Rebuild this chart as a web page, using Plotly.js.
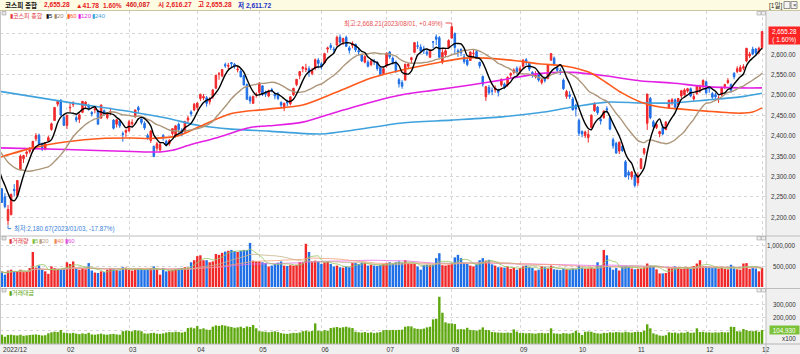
<!DOCTYPE html>
<html><head><meta charset="utf-8">
<script src="https://cdn.plot.ly/plotly-3.0.1.min.js"></script>
<style>html,body{margin:0;padding:0;background:#fff;overflow:hidden}#chart{width:800px;height:354px}</style>
</head><body><div id="chart"></div>
<script>
// ---------------- DATA ----------------
const dates = [
'2022-12-28','2022-12-29',
'2023-01-02','2023-01-03','2023-01-04','2023-01-05','2023-01-06','2023-01-09','2023-01-10','2023-01-11','2023-01-12','2023-01-13','2023-01-16','2023-01-17','2023-01-18','2023-01-19','2023-01-20','2023-01-25','2023-01-26','2023-01-27','2023-01-30','2023-01-31',
'2023-02-01','2023-02-02','2023-02-03','2023-02-06','2023-02-07','2023-02-08','2023-02-09','2023-02-10','2023-02-13','2023-02-14','2023-02-15','2023-02-16','2023-02-17','2023-02-20','2023-02-21','2023-02-22','2023-02-23','2023-02-24','2023-02-27','2023-02-28',
'2023-03-02','2023-03-03','2023-03-06','2023-03-07','2023-03-08','2023-03-09','2023-03-10','2023-03-13','2023-03-14','2023-03-15','2023-03-16','2023-03-17','2023-03-20','2023-03-21','2023-03-22','2023-03-23','2023-03-24','2023-03-27','2023-03-28','2023-03-29','2023-03-30','2023-03-31',
'2023-04-03','2023-04-04','2023-04-05','2023-04-06','2023-04-07','2023-04-10','2023-04-11','2023-04-12','2023-04-13','2023-04-14','2023-04-17','2023-04-18','2023-04-19','2023-04-20','2023-04-21','2023-04-24','2023-04-25','2023-04-26','2023-04-27','2023-04-28',
'2023-05-02','2023-05-03','2023-05-04','2023-05-08','2023-05-09','2023-05-10','2023-05-11','2023-05-12','2023-05-15','2023-05-16','2023-05-17','2023-05-18','2023-05-19','2023-05-22','2023-05-23','2023-05-24','2023-05-25','2023-05-26','2023-05-30','2023-05-31',
'2023-06-01','2023-06-02','2023-06-05','2023-06-07','2023-06-08','2023-06-09','2023-06-12','2023-06-13','2023-06-14','2023-06-15','2023-06-16','2023-06-19','2023-06-20','2023-06-21','2023-06-22','2023-06-23','2023-06-26','2023-06-27','2023-06-28','2023-06-29','2023-06-30',
'2023-07-03','2023-07-04','2023-07-05','2023-07-06','2023-07-07','2023-07-10','2023-07-11','2023-07-12','2023-07-13','2023-07-14','2023-07-17','2023-07-18','2023-07-19','2023-07-20','2023-07-21','2023-07-24','2023-07-25','2023-07-26','2023-07-27','2023-07-28','2023-07-31',
'2023-08-01','2023-08-02','2023-08-03','2023-08-04','2023-08-07','2023-08-08','2023-08-09','2023-08-10','2023-08-11','2023-08-14','2023-08-16','2023-08-17','2023-08-18','2023-08-21','2023-08-22','2023-08-23','2023-08-24','2023-08-25','2023-08-28','2023-08-29','2023-08-30','2023-08-31',
'2023-09-01','2023-09-04','2023-09-05','2023-09-06','2023-09-07','2023-09-08','2023-09-11','2023-09-12','2023-09-13','2023-09-14','2023-09-15','2023-09-18','2023-09-19','2023-09-20','2023-09-21','2023-09-22','2023-09-25','2023-09-26','2023-09-27',
'2023-10-04','2023-10-05','2023-10-06','2023-10-10','2023-10-11','2023-10-12','2023-10-13','2023-10-16','2023-10-17','2023-10-18','2023-10-19','2023-10-20','2023-10-23','2023-10-24','2023-10-25','2023-10-26','2023-10-27','2023-10-30','2023-10-31',
'2023-11-01','2023-11-02','2023-11-03','2023-11-06','2023-11-07','2023-11-08','2023-11-09','2023-11-10','2023-11-13','2023-11-14','2023-11-15','2023-11-16','2023-11-17','2023-11-20','2023-11-21','2023-11-22','2023-11-23','2023-11-24','2023-11-27','2023-11-28','2023-11-29','2023-11-30',
'2023-12-01','2023-12-04','2023-12-05','2023-12-06','2023-12-07','2023-12-08','2023-12-11','2023-12-12','2023-12-13','2023-12-14','2023-12-15','2023-12-18','2023-12-19','2023-12-20','2023-12-21','2023-12-22','2023-12-26','2023-12-27','2023-12-28'
];
const openP = [
2317,2270,
2250,2192,2206,2268,2253,2316,2343,2356,2361,2366,2392,2401,2380,2367,2387,2415,2437,2477,2487,2445,
2425,2468,2476,2444,2440,2457,2474,2473,2457,2463,2462,2443,2461,2444,2456,2438,2428,2436,2405,2408,
2412,2429,2446,2469,2441,2430,2400,2388,2374,2369,2365,2400,2386,2380,2405,2400,2428,2413,2410,2438,2458,2463,
2469,2491,2492,2493,2483,2495,2516,2551,2546,2574,2570,2579,2575,2561,2558,2547,2525,2494,2479,2500,
2506,2522,2505,2497,2513,2502,2500,2481,2468,2483,2478,2500,2525,2547,2564,2562,2564,2552,2565,2585,
2576,2578,2612,2621,2612,2622,2641,2630,2641,2615,2621,2624,2608,2599,2580,2580,2574,2583,2580,2567,2552,
2571,2605,2590,2580,2537,2530,2536,2570,2586,2604,2620,2617,2612,2605,2592,2630,2642,2640,2580,2598,2616,
2639,2650,2608,2611,2593,2585,2584,2601,2606,2580,2545,2495,2518,2510,2512,2511,2524,2526,2524,2548,2555,2565,
2558,2570,2586,2577,2555,2545,2550,2530,2540,2540,2585,2590,2567,2560,2536,2496,2500,2490,2475,
2437,2410,2400,2395,2420,2461,2470,2440,2444,2466,2444,2390,2381,2362,2374,2336,2310,2299,2303,
2284,2319,2357,2430,2491,2434,2420,2404,2420,2415,2468,2480,2488,2475,2497,2500,2509,2515,2490,2503,2510,2522,
2532,2518,2503,2500,2490,2500,2520,2530,2525,2553,2557,2557,2565,2583,2595,2612,2612,2605,2616
];
const highP = [
2318,2270,
2259,2230,2258,2281,2290,2354,2353,2364,2372,2387,2406,2405,2383,2384,2400,2432,2470,2487,2489,2453,
2450,2480,2484,2450,2454,2484,2484,2478,2460,2469,2463,2476,2464,2457,2468,2440,2440,2437,2410,2415,
2438,2440,2463,2473,2441,2435,2405,2413,2375,2385,2385,2404,2390,2392,2418,2425,2432,2418,2435,2448,2462,2480,
2481,2503,2502,2497,2494,2514,2548,2556,2563,2579,2578,2580,2578,2570,2563,2549,2528,2498,2498,2506,
2531,2523,2510,2513,2517,2506,2507,2484,2481,2488,2496,2517,2538,2558,2570,2576,2570,2566,2589,2590,
2580,2603,2618,2627,2618,2645,2648,2640,2645,2620,2631,2625,2615,2600,2597,2585,2588,2588,2582,2568,2567,
2604,2607,2594,2584,2541,2536,2576,2578,2593,2629,2631,2624,2620,2612,2612,2632,2648,2644,2612,2612,2636,
2668,2653,2613,2614,2600,2590,2606,2610,2610,2581,2547,2522,2524,2518,2523,2515,2540,2530,2545,2555,2565,2570,
2570,2587,2590,2578,2558,2558,2556,2540,2545,2575,2602,2594,2574,2566,2540,2512,2509,2495,2478,
2442,2413,2412,2414,2452,2481,2472,2446,2462,2472,2448,2395,2385,2385,2378,2340,2315,2313,2305,
2310,2345,2370,2502,2495,2438,2432,2412,2428,2436,2487,2492,2491,2492,2512,2516,2517,2518,2503,2522,2525,2538,
2535,2520,2507,2505,2498,2520,2527,2541,2528,2555,2570,2573,2575,2615,2605,2618,2615,2618,2655
];
const lowP = [
2280,2236,
2222,2181,2205,2252,2253,2316,2333,2348,2356,2360,2386,2379,2362,2364,2385,2412,2436,2471,2450,2425,
2416,2458,2470,2433,2431,2455,2468,2461,2447,2455,2427,2441,2449,2440,2451,2415,2420,2419,2385,2397,
2409,2424,2443,2455,2427,2414,2390,2382,2347,2362,2360,2388,2373,2375,2400,2395,2407,2398,2405,2432,2447,2460,
2462,2485,2487,2471,2476,2490,2515,2537,2543,2566,2563,2566,2564,2555,2543,2523,2488,2478,2478,2493,
2502,2497,2495,2494,2506,2489,2487,2467,2460,2472,2474,2497,2521,2538,2555,2556,2544,2548,2560,2565,
2562,2576,2603,2610,2601,2619,2623,2622,2617,2601,2614,2605,2597,2580,2577,2567,2570,2573,2559,2549,2550,
2567,2588,2574,2555,2518,2515,2535,2563,2576,2602,2612,2604,2600,2595,2590,2614,2622,2592,2575,2592,2612,
2637,2600,2593,2595,2576,2570,2583,2592,2588,2565,2520,2485,2500,2499,2505,2496,2520,2514,2520,2540,2550,2550,
2550,2565,2573,2558,2542,2540,2532,2525,2530,2538,2583,2571,2553,2549,2512,2490,2490,2462,2447,
2399,2396,2394,2383,2418,2458,2451,2427,2441,2456,2413,2368,2357,2355,2360,2298,2292,2292,2273,
2277,2318,2352,2414,2440,2414,2416,2396,2401,2413,2466,2474,2467,2470,2492,2498,2505,2494,2485,2500,2505,2515,
2500,2505,2490,2490,2480,2497,2514,2526,2505,2538,2553,2556,2560,2580,2590,2597,2595,2600,2612
];
const closeP = [
2280,2236,
2226,2219,2256,2265,2290,2350,2351,2360,2365,2386,2400,2379,2368,2380,2395,2429,2469,2484,2450,2425,
2450,2469,2480,2438,2451,2484,2482,2469,2453,2466,2428,2475,2451,2455,2459,2418,2439,2424,2403,2413,
2434,2432,2463,2463,2432,2419,2395,2411,2349,2380,2378,2396,2378,2388,2417,2424,2415,2404,2435,2443,2453,2477,
2480,2501,2496,2479,2490,2512,2548,2551,2562,2571,2572,2576,2571,2563,2544,2524,2489,2485,2496,2502,
2529,2501,2502,2509,2510,2497,2491,2475,2479,2480,2495,2516,2538,2557,2568,2565,2555,2559,2586,2577,
2569,2601,2615,2616,2610,2641,2629,2638,2619,2609,2626,2610,2605,2583,2594,2570,2582,2581,2564,2550,2564,
2602,2593,2579,2556,2527,2521,2575,2575,2591,2628,2619,2607,2608,2600,2610,2629,2636,2592,2604,2608,2633,
2667,2616,2605,2603,2581,2574,2605,2602,2591,2571,2526,2520,2505,2509,2516,2506,2538,2519,2543,2552,2561,2556,
2564,2585,2582,2563,2548,2548,2536,2537,2535,2573,2601,2575,2560,2559,2515,2508,2496,2463,2465,
2406,2404,2409,2403,2450,2480,2456,2436,2460,2463,2416,2375,2357,2384,2363,2299,2303,2311,2278,
2302,2343,2368,2502,2444,2422,2427,2410,2404,2433,2487,2488,2470,2491,2510,2512,2515,2497,2496,2522,2520,2535,
2505,2515,2494,2495,2492,2518,2525,2535,2511,2544,2564,2567,2569,2614,2600,2600,2603,2614,2655
];
// closes of the 19 sessions before the first bar (only feed the 5/20-day averages)
const prevCloses = [2480,2434,2419,2393,2383,2371,2389,2371,2399,2373,2361,2360,2352,2333,2329,2357,2314,2317,2333];
// volume, thousand shares
const volume = [
380,360,
300,400,420,390,380,420,360,380,460,850,470,520,420,380,320,500,460,440,430,450,
600,560,620,450,420,460,430,580,400,350,340,380,360,420,440,430,410,400,480,470,
420,400,430,450,440,420,430,450,500,440,300,460,380,400,410,440,450,460,480,470,600,650,
750,770,650,650,600,620,800,780,830,860,880,900,870,850,880,900,900,1070,640,620,
620,600,580,500,520,560,590,620,520,510,530,520,540,600,600,1050,850,620,640,620,
560,600,620,560,500,520,480,470,500,480,580,580,560,590,580,520,540,520,510,540,560,
580,600,560,600,620,580,650,580,560,560,500,420,530,540,530,540,700,820,530,520,540,
560,720,780,700,580,560,520,500,550,650,700,640,660,550,520,480,480,470,500,440,470,420,
460,500,520,480,460,400,420,500,480,450,520,430,420,410,440,430,420,450,430,
520,470,440,450,470,440,600,520,900,770,480,420,460,400,500,510,500,450,430,
440,450,480,570,520,500,430,330,330,340,480,470,500,460,440,450,470,440,510,570,650,500,
500,480,460,470,450,460,440,430,540,450,430,420,570,580,440,460,450,380,460
];
// trading value (axis shows x100)
const tradeValue = [
75,70,
55,68,70,66,64,70,62,65,68,70,72,68,64,66,80,88,92,90,105,85,
82,80,84,78,74,80,76,84,72,70,74,78,72,70,74,76,72,70,96,100,
98,95,104,100,96,80,78,82,84,78,76,80,86,90,88,92,90,86,92,120,124,118,
135,112,118,108,106,130,140,136,142,138,132,128,122,125,130,120,132,128,143,118,
96,94,92,88,92,96,90,82,78,76,80,84,82,86,96,100,94,98,155,100,
96,104,100,120,124,128,122,126,130,124,120,92,88,86,90,84,88,82,86,90,104,
106,104,106,104,106,108,130,134,132,118,114,112,116,125,130,185,190,355,235,163,155,
155,150,110,112,110,122,106,104,100,108,125,105,104,90,88,86,85,84,86,84,110,93,
82,84,80,82,80,78,82,84,80,82,118,80,78,76,82,80,78,84,100,
84,68,92,94,92,84,80,78,84,82,88,86,90,88,86,92,88,86,90,
92,90,100,148,118,80,72,64,62,66,88,84,86,80,86,84,92,84,86,118,90,92,
86,88,85,88,86,90,87,88,130,128,96,94,113,104,98,96,100,92,105
];
// long moving averages (session index -> value)
const ma60At  = [0,11,22,33,43,49,58,65,75,87,98,109,120,130,141,150,157,166,174,181,185,191,196,201,207,213,220,228,239,243,246];
const ma60Val = [2346,2370,2385,2393,2394,2393,2400,2423,2454,2465,2475,2507,2541,2561,2578,2590,2590,2584,2576,2572,2567,2553,2529,2504,2482,2470,2465,2460,2455,2458,2468];
const ma120At  = [0,22,43,52,56,62,70,81,87,98,109,120,130,141,152,162,174,185,196,207,217,228,239,246];
const ma120Val = [2370,2366,2361,2360,2364,2378,2394,2420,2424,2433,2458,2482,2500,2512,2524,2536,2552,2555,2546,2534,2529,2520,2517,2517];
const ma240At  = [0,22,43,54,65,75,87,104,114,130,146,162,174,185,196,207,217,228,239,246];
const ma240Val = [2509,2482,2458,2443,2424,2416,2411,2404,2413,2431,2438,2446,2456,2470,2482,2480,2480,2487,2495,2504];

const monthTickDates = ['2023-02-01','2023-03-02','2023-04-03','2023-05-02','2023-06-01','2023-07-03','2023-08-01','2023-09-01','2023-10-04','2023-11-01','2023-12-01','2023-12-28'];
const monthTickText  = ['02','03','04','05','06','07','08','09','10','11','12','12'];
const firstMonthLabel = '2022/12';
const priceTicks = [2200,2250,2300,2350,2400,2450,2500,2550,2600,2650];
const volTicks = [500,1000];
const valTicks = [100,200,300];

// ---------------- HELPERS ----------------
function movingAvg(series, n, lead) {
  const all = lead.concat(series), out = [];
  for (let i = 0; i < series.length; i++) {
    const j = i + lead.length, s = Math.max(0, j - n + 1);
    let sum = 0; for (let k = s; k <= j; k++) sum += all[k];
    out.push(sum / (j - s + 1));
  }
  return out;
}
function fmt(v, dec) {
  const p = v.toFixed(dec).split('.');
  p[0] = p[0].replace(/\B(?=(\d{3})+(?!\d))/g, ',');
  return p.join('.');
}
const FONT = 'Liberation Sans, Noto Sans CJK KR, sans-serif';
const RED = '#f0282a', BLUE = '#1f6fe6', GREEN = '#5ea80f';
const PW = 766, TOP = 11, BOT = 344, PH = BOT - TOP;
const px = x => x / PW, py = y => (BOT - y) / PH;

// ---------------- TRACES ----------------
const ma5 = movingAvg(closeP, 5, prevCloses);
const ma20 = movingAvg(closeP, 20, prevCloses);
const traces = [];
traces.push({type:'candlestick', x:dates, open:openP, high:highP, low:lowP, close:closeP,
  xaxis:'x', yaxis:'y', whiskerwidth:0, hoverinfo:'skip', showlegend:false,
  increasing:{line:{color:RED,width:1}, fillcolor:RED},
  decreasing:{line:{color:BLUE,width:1}, fillcolor:BLUE}});
function line(xs, ys, color, w, ax, ay) {
  return {type:'scatter', mode:'lines', x:xs, y:ys, xaxis:ax||'x', yaxis:ay||'y', hoverinfo:'skip', showlegend:false,
    line:{color:color, width:w, shape:'spline', smoothing:0.8}};
}
traces.push(line(ma240At.map(i=>dates[i]), ma240Val, '#3fa2dd', 1.6));
traces.push(line(ma120At.map(i=>dates[i]), ma120Val, '#e41fe4', 1.6));
traces.push(line(ma60At.map(i=>dates[i]), ma60Val, '#ff5a1c', 1.6));
traces.push(line(dates, ma20, '#ad967a', 1.4));
traces.push(line(dates, ma5, '#000000', 1.4));

const barColors = closeP.map((c,i)=> c >= openP[i] ? RED : BLUE);
traces.push({type:'bar', x:dates, y:volume, xaxis:'x2', yaxis:'y2', marker:{color:barColors, line:{width:0}}, hoverinfo:'skip', showlegend:false});
traces.push(line(dates, movingAvg(volume,60,[]), 'rgba(230,110,230,0.85)', 1, 'x2','y2'));
traces.push(line(dates, movingAvg(volume,40,[]), 'rgba(245,160,120,0.85)', 1, 'x2','y2'));
traces.push(line(dates, movingAvg(volume,20,[]), 'rgba(200,180,140,0.85)', 1, 'x2','y2'));
traces.push(line(dates, movingAvg(volume,5,[]), 'rgba(150,200,100,0.85)', 1, 'x2','y2'));
traces.push({type:'bar', x:dates, y:tradeValue, xaxis:'x3', yaxis:'y3', marker:{color:GREEN, line:{width:0}}, hoverinfo:'skip', showlegend:false});

// ---------------- LAYOUT ----------------
const xr = [0.419, 247.28];
const xBase = {type:'category', range:xr, showgrid:true, gridcolor:'#d6d6d6', griddash:'dot', gridwidth:1,
  tickvals:monthTickDates, ticktext:monthTickText, ticks:'', zeroline:false, showline:false, fixedrange:true,
  rangeslider:{visible:false}, automargin:false};
const yBase = {side:'right', showgrid:true, gridcolor:'#d6d6d6', griddash:'dot', ticks:'', zeroline:false,
  showline:false, fixedrange:true, automargin:false, showticklabels:false};

const shapes = [
  {type:'rect', xref:'paper', yref:'paper', x0:px(-2), x1:px(802), y0:py(10.5), y1:py(-2), fillcolor:'#fdfbe2', line:{width:0}, layer:'below'},
  {type:'line', xref:'paper', yref:'paper', x0:px(0), x1:px(800), y0:py(10.5), y1:py(10.5), line:{color:'#c9c5a0', width:1}},
  {type:'rect', xref:'paper', yref:'paper', x0:1, x1:px(802), y0:py(BOT), y1:py(10.5), fillcolor:'#f0f0f0', line:{width:0}, layer:'below'},
  {type:'rect', xref:'paper', yref:'paper', x0:px(-2), x1:px(802), y0:py(356), y1:py(BOT), fillcolor:'#f0f0f0', line:{width:0}, layer:'below'},
  {type:'line', xref:'paper', yref:'paper', x0:1, x1:1, y0:py(356), y1:py(10.5), line:{color:'#bdbdbd', width:1}},
  {type:'line', xref:'paper', yref:'paper', x0:px(0.5), x1:px(0.5), y0:py(BOT), y1:py(10.5), line:{color:'#c8c8c8', width:1}},
  {type:'line', xref:'paper', yref:'paper', x0:0, x1:px(800), y0:py(236), y1:py(236), line:{color:'#bdbdbd', width:1}},
  {type:'line', xref:'paper', yref:'paper', x0:0, x1:px(800), y0:py(288.5), y1:py(288.5), line:{color:'#bdbdbd', width:1}},
  {type:'line', xref:'paper', yref:'paper', x0:0, x1:px(800), y0:py(BOT), y1:py(BOT), line:{color:'#b5b5b5', width:1}},
  // highest / lowest markers
  {type:'line', xref:'x', yref:'y', x0:'2023-07-28', x1:'2023-08-01', y0:2676, y1:2676, line:{color:'#e85050', width:1}},
  {type:'line', xref:'x', yref:'y', x0:'2023-08-01', x1:'2023-08-01', y0:2676, y1:2669.5, line:{color:'#e85050', width:1}},
  {type:'line', xref:'x', yref:'y', x0:'2023-01-03', x1:'2023-01-03', y0:2180, y1:2172, line:{color:'#3b7fd9', width:1}},
  {type:'line', xref:'x', yref:'y', x0:'2023-01-03', x1:'2023-01-04', y0:2172, y1:2172, line:{color:'#3b7fd9', width:1}},
];
[[13,3],[238,3],[290,3]].forEach(([y,x])=>{
  shapes.push({type:'rect', xref:'paper', yref:'paper', x0:px(x-1), x1:px(x+3), y0:py(y+2), y1:py(y-1.5), fillcolor:'#e6e6e6', line:{color:'#9a9a9a', width:0.6}});
  shapes.push({type:'rect', xref:'paper', yref:'paper', x0:px(757), x1:px(761), y0:py(y+2), y1:py(y-1.5), fillcolor:'#eeeeee', line:{color:'#a0a0a0', width:0.6}});
  shapes.push({type:'rect', xref:'paper', yref:'paper', x0:px(761.5), x1:px(765.5), y0:py(y+2), y1:py(y-1.5), fillcolor:'#eeeeee', line:{color:'#a0a0a0', width:0.6}});
});
shapes.push({type:'rect', xref:'paper', yref:'paper', x0:px(784), x1:px(790), y0:py(8.5), y1:py(1.5), fillcolor:'#f4f4f4', line:{color:'#666', width:0.7}});
shapes.push({type:'rect', xref:'paper', yref:'paper', x0:px(791), x1:px(797), y0:py(8.5), y1:py(1.5), fillcolor:'#f4f4f4', line:{color:'#666', width:0.7}});

function T(x, y, text, color, size, extra) {
  return Object.assign({xref:'paper', yref:'paper', x:px(x), y:py(y), text:text, showarrow:false,
    xanchor:'left', yanchor:'middle', font:{family:FONT, size:size||7, color:color||'#000'}, borderpad:0}, extra||{});
}
const yPix = (v, top, bottom, lo, hi) => bottom - (v - lo) / (hi - lo) * (bottom - top);
const annotations = [
  T(4, 5.2, '<b>코스피 종합</b>', '#111', 6.6),
  T(43, 5.2, '<b>2,655.28</b>', '#e8201e', 6.6),
  T(75, 5.2, '<b>▲41.78</b>', '#e8201e', 6.6),
  T(102, 5.2, '<b>1.60%</b>', '#e8201e', 6.6),
  T(125, 5.2, '<b>460,087</b>', '#d61c1c', 6.6),
  T(157, 5.2, '<b>시 2,616.27</b>', '#e8201e', 6.6),
  T(197, 5.2, '<b>고 2,655.28</b>', '#e8201e', 6.6),
  T(237, 5.2, '<b>저 2,611.72</b>', '#2430c8', 6.6),
  T(768, 5.2, '[1일]', '#222', 6.5),
  T(792.2, 4.8, '×', '#333', 6),
  // price legend
  T(9, 16, '▮코스피 종합', '#e0393e', 6),
  T(45, 16, '▮5', '#111', 6),
  T(53, 16, '▮20', '#a08a6e', 6),
  T(65.5, 16, '▮60', '#ff5a1c', 6),
  T(77, 16, '▮120', '#e41fe4', 6),
  T(91, 16, '▮240', '#3fa2dd', 6),
  // volume legend
  T(8, 240.5, '▮거래량', '#e0393e', 6),
  T(30.5, 240.5, '▮5', '#7fbf3f', 6),
  T(37.5, 240.5, '▮20', '#b8a07e', 6),
  T(52.5, 240.5, '▮40', '#f08a5a', 6),
  T(64, 240.5, '▮60', '#e050e0', 6),
  // value legend
  T(8, 292.5, '▮거래대금', '#5ea80f', 6),
  // first month label
  T(1.5, 349.2, firstMonthLabel, '#333', 6.6),
  // high / low labels
  {xref:'x', yref:'y', x:'2023-07-28', y:2676, text:'최고:2,668.21(2023/08/01, +0.49%)', showarrow:false, xanchor:'right', yanchor:'middle', xshift:-1,
    font:{family:FONT, size:6.3, color:'#e85050'}},
  {xref:'x', yref:'y', x:'2023-01-04', y:2172, text:'최저:2,180.67(2023/01/03, -17.87%)', showarrow:false, xanchor:'left', yanchor:'middle', xshift:1,
    font:{family:FONT, size:6.3, color:'#3b7fd9'}},
];
// right-aligned axis labels
priceTicks.filter(v => v !== 2650).forEach(v => annotations.push(
  T(797, yPix(v, 11, 235, 2156.4, 2705.4), fmt(v,2), '#333', 6.3, {xanchor:'right'})));
volTicks.forEach(v => annotations.push(
  T(797, yPix(v, 237, 287, 0, 1214), fmt(v*1000,0), '#333', 6.3, {xanchor:'right'})));
valTicks.filter(v => v !== 100).forEach(v => annotations.push(
  T(797, yPix(v, 289, 344, 0, 413.5), fmt(v*1000,0), '#333', 6.3, {xanchor:'right'})));
annotations.push(T(767.5, 36, '2,655.28<br>( 1.60%)', '#ffffff', 6.3, {bgcolor:'#ff2424', width:30, align:'center', borderpad:0.5}));
annotations.push(T(769, 330, '104,930', '#ffffff', 6.3, {bgcolor:'#7cc238', width:28, align:'center', borderpad:0.5}));
annotations.push(T(797, 338.5, 'x100', '#333', 6.3, {xanchor:'right'}));

const layout = {
  width:800, height:354, margin:{l:0, r:34, t:TOP, b:10, pad:0},
  paper_bgcolor:'#ffffff', plot_bgcolor:'#ffffff', showlegend:false, bargap:0.22, boxgap:0.3,
  font:{family:FONT, size:7, color:'#333'},
  xaxis: Object.assign({}, xBase, {anchor:'y', domain:[0,1], showticklabels:false}),
  xaxis2: Object.assign({}, xBase, {anchor:'y2', domain:[0,1], matches:'x', showticklabels:false}),
  xaxis3: Object.assign({}, xBase, {anchor:'y3', domain:[0,1], matches:'x', showticklabels:true,
    ticklabelposition:'outside right', tickfont:{family:FONT, size:6.6, color:'#333'}, ticklabelstandoff:0}),
  yaxis: Object.assign({}, yBase, {anchor:'x', domain:[py(235),1], range:[2156.4,2705.4], tickvals:priceTicks}),
  yaxis2: Object.assign({}, yBase, {anchor:'x2', domain:[py(287),py(237)], range:[0,1214], tickvals:volTicks}),
  yaxis3: Object.assign({}, yBase, {anchor:'x3', domain:[0,py(289)], range:[0,413.5], tickvals:valTicks}),
  shapes:shapes, annotations:annotations
};
Plotly.newPlot('chart', traces, layout, {staticPlot:true, displayModeBar:false});
</script>
</body></html>
